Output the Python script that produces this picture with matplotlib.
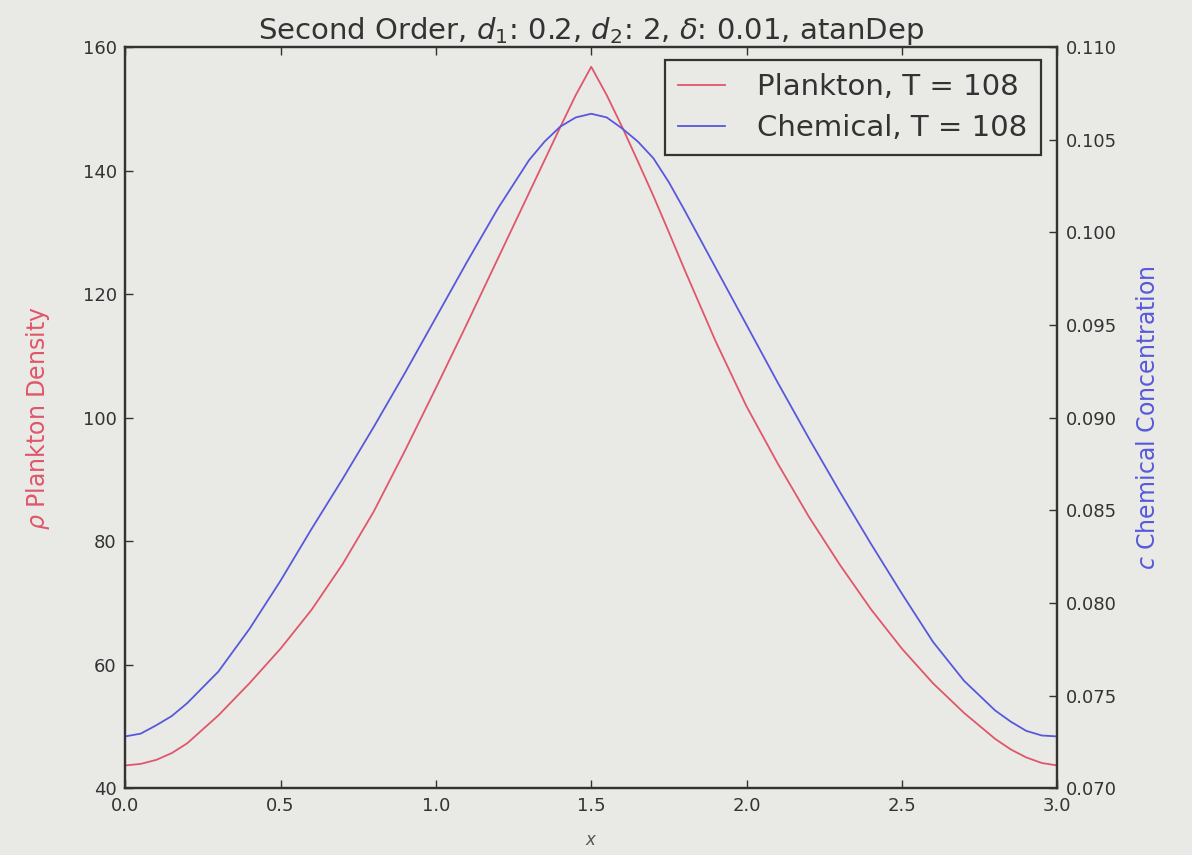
import matplotlib
matplotlib.use('Agg')
import matplotlib.pyplot as plt

# ---------------------------------------------------------------------------
# Data (x, plankton density, chemical concentration)
# ---------------------------------------------------------------------------
x_vals = [0.0, 0.05, 0.1, 0.15, 0.2, 0.3, 0.4, 0.5, 0.6, 0.7, 0.8, 0.9,
          1.0, 1.1, 1.2, 1.3, 1.35, 1.4, 1.45, 1.5, 1.55, 1.6, 1.65, 1.7, 1.75,
          1.8, 1.9, 2.0, 2.1, 2.2, 2.3, 2.4, 2.5, 2.6, 2.7,
          2.8, 2.85, 2.9, 2.95, 3.0]

plankton = [43.7, 43.95, 44.6, 45.7, 47.3, 51.8, 57.0, 62.6, 68.9, 76.3, 84.8, 94.6,
            104.8, 115.2, 125.8, 136.4, 141.7, 147.0, 152.2, 156.8, 152.2, 147.0, 141.5, 135.9, 130.0,
            124.0, 112.4, 101.8, 92.6, 84.0, 76.2, 69.0, 62.6, 57.0, 52.2,
            48.0, 46.3, 45.0, 44.1, 43.7]

chemical = [0.0728, 0.07295, 0.0734, 0.0739, 0.0746, 0.0763, 0.0786, 0.0812, 0.0840, 0.0867, 0.0895, 0.0924,
            0.0954, 0.0984, 0.1013, 0.1039, 0.1049, 0.1057, 0.1062, 0.1064, 0.1062, 0.1056, 0.1049, 0.1040, 0.1027,
            0.1012, 0.0981, 0.0950, 0.0919, 0.0889, 0.0860, 0.0832, 0.0805, 0.0779, 0.0758,
            0.0742, 0.0736, 0.0731, 0.07285, 0.0728]

T_final = 108

BG = '#e9eae6'
RED = '#e0566a'
BLUE = '#5858dc'


def main():
    fig = plt.figure(figsize=(11.92, 8.55), dpi=100, facecolor=BG)
    ax = fig.add_axes([0.105, 0.078, 0.782, 0.867], facecolor=BG)
    ax2 = ax.twinx()

    l1, = ax.plot(x_vals, plankton, color=RED, linewidth=1.3,
                  label=f'Plankton, T = {T_final}')
    l2, = ax2.plot(x_vals, chemical, color=BLUE, linewidth=1.3,
                   label=f'Chemical, T = {T_final}')

    ax.set_xlim(0, 3.0)
    ax.set_ylim(40, 160)
    ax2.set_ylim(0.070, 0.110)
    ax.set_xticks([0.0, 0.5, 1.0, 1.5, 2.0, 2.5, 3.0])
    ax.set_yticks([40, 60, 80, 100, 120, 140, 160])
    ax2.set_yticks([0.070, 0.075, 0.080, 0.085, 0.090, 0.095, 0.100, 0.105, 0.110])
    ax2.set_yticklabels([f'{v:.3f}' for v in ax2.get_yticks()])

    for a in (ax, ax2):
        a.tick_params(direction='in', length=6, width=1, labelsize=13,
                      colors='#333333', pad=6)
        for s in a.spines.values():
            s.set_color('#333333')
            s.set_linewidth(1.6)
    ax.tick_params(top=True)

    ax.set_title(r'Second Order, $d_1$: 0.2, $d_2$: 2, $\delta$: 0.01, atanDep',
                 fontsize=21, color='#333333', pad=6)
    ax.set_xlabel(r'$x$', fontsize=12, color='#555555', labelpad=12)
    ax.set_ylabel(r'$\rho$ Plankton Density', fontsize=17, color=RED, labelpad=22)
    ax2.set_ylabel(r'$c$ Chemical Concentration', fontsize=17, color=BLUE, labelpad=14)

    leg = ax.legend(handles=[l1, l2], loc='upper right', fontsize=21,
                    bbox_to_anchor=(0.982, 0.983), borderaxespad=0,
                    fancybox=False, framealpha=1, facecolor=BG,
                    edgecolor='#333333', handlelength=1.6, handletextpad=1.1,
                    borderpad=0.45, labelspacing=0.45)
    leg.get_frame().set_linewidth(1.6)
    for t in leg.get_texts():
        t.set_color('#333333')

    fig.savefig('out.png', dpi=100, facecolor=BG)
    plt.close(fig)


if __name__ == '__main__':
    main()
